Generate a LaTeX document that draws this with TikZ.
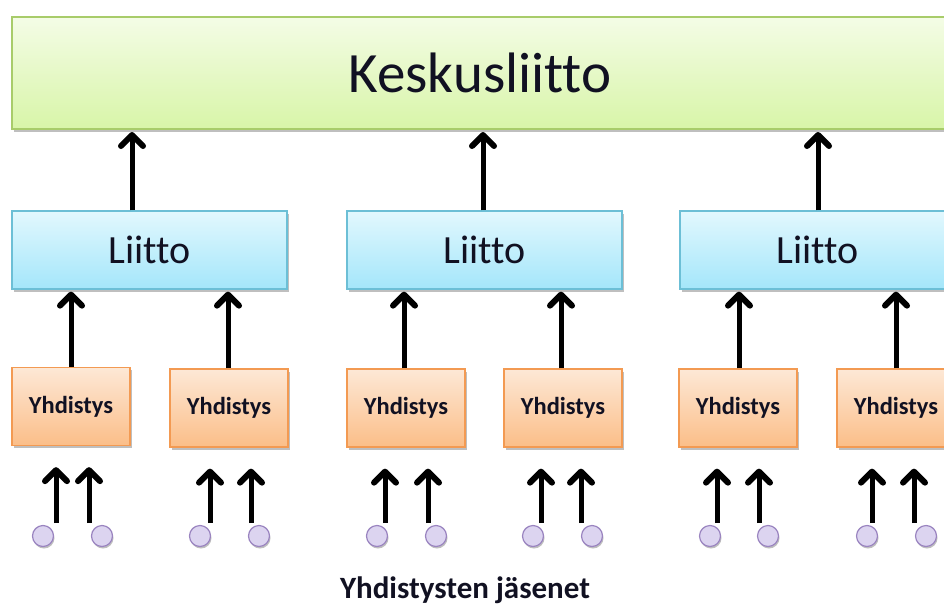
\documentclass[tikz,border=0pt]{standalone}
\usepackage{fontspec}
\setmainfont[Ligatures=NoCommon]{Carlito}
\usetikzlibrary{arrows.meta,shadows}
\definecolor{ktop}{HTML}{F4FCE6}
\definecolor{kbot}{HTML}{D8F5A8}
\definecolor{kbrd}{HTML}{A8CC6A}
\definecolor{ltop}{HTML}{E2F8FE}
\definecolor{lbot}{HTML}{A4E6FA}
\definecolor{lbrd}{HTML}{6CBFD6}
\definecolor{ytop}{HTML}{FDE8D6}
\definecolor{ybot}{HTML}{FBBE88}
\definecolor{ybrd}{HTML}{F39A52}
\definecolor{cfill}{HTML}{DCD4F0}
\definecolor{cbrd}{HTML}{9A84C0}
\definecolor{txt}{HTML}{111122}
\begin{document}
\begin{tikzpicture}[x=1pt,y=-1pt,
  box/.style={draw, line width=1.3pt, inner sep=0pt, text=txt,
    drop shadow={shadow xshift=1.5pt, shadow yshift=-2.5pt, opacity=0.25, fill=black}},
  kbox/.style={box, draw=kbrd, top color=ktop, bottom color=kbot,
    minimum width=936pt, minimum height=112pt, font=\fontsize{57}{62}\selectfont},
  lbox/.style={box, draw=lbrd, top color=ltop, bottom color=lbot,
    minimum width=275pt, minimum height=78pt, font=\fontsize{40}{46}\selectfont},
  ybox/.style={box, draw=ybrd, top color=ytop, bottom color=ybot,
    minimum width=118pt, minimum height=78pt, font=\bfseries\fontsize{24.5}{28}\selectfont},
  member/.style={circle, draw=cbrd, line width=1.2pt, fill=cfill, minimum size=21pt, inner sep=0pt,
    drop shadow={shadow xshift=1pt, shadow yshift=-2pt, opacity=0.25, fill=black}},
  uparrow/.style={draw=black, line width=5pt, -{Straight Barb[length=11pt,width=22pt,line width=6pt,round]}},
  ]
\useasboundingbox (0,0) rectangle (944,605);

\node[kbox] (K) at (480,73) {Keskusliitto};

\node[lbox] (L1) at (149.5,250) {Liitto};
\node[lbox] (L2) at (484.5,250) {Liitto};
\node[lbox] (L3) at (817.5,250) {Liitto};

\node[ybox] (Y1) at (71,406.5) {Yhdistys};
\node[ybox] (Y2) at (229,408) {Yhdistys};
\node[ybox] (Y3) at (406,408) {Yhdistys};
\node[ybox] (Y4) at (563,408) {Yhdistys};
\node[ybox] (Y5) at (738,408) {Yhdistys};
\node[ybox] (Y6) at (896,408) {Yhdistys};

% Liitto -> Keskusliitto
\coordinate (k1) at (132,129);
\coordinate (k2) at (483,129);
\coordinate (k3) at (818,129);
\draw[uparrow, shorten >=3pt] (L1.north -| k1) -- (k1);
\draw[uparrow, shorten >=3pt] (L2.north -| k2) -- (k2);
\draw[uparrow, shorten >=3pt] (L3.north -| k3) -- (k3);

% Yhdistys -> Liitto
\draw[uparrow, shorten >=2pt] (Y1.north -| 71,0) -- (L1.south -| 71,0);
\draw[uparrow, shorten >=2pt] (Y2.north -| 228,0) -- (L1.south -| 228,0);
\draw[uparrow, shorten >=2pt] (Y3.north -| 404,0) -- (L2.south -| 404,0);
\draw[uparrow, shorten >=2pt] (Y4.north -| 561,0) -- (L2.south -| 561,0);
\draw[uparrow, shorten >=2pt] (Y5.north -| 739,0) -- (L3.south -| 739,0);
\draw[uparrow, shorten >=2pt] (Y6.north -| 896,0) -- (L3.south -| 896,0);

% members
\foreach \n/\cx/\ax/\yy in {a/43/56/Y1, b/102/89/Y1, c/200/210/Y2, d/259/251/Y2,
                            e/377/385/Y3, f/436/428/Y3, g/533/541/Y4, h/592/581/Y4,
                            i/710/717/Y5, j/768/759/Y5, k/867/872/Y6, l/926/914/Y6}{
  \node[member] (m\n) at (\cx,536) {};
  \coordinate (s\n) at (\ax,523);
  \draw[uparrow, shorten >=21pt] (s\n) -- (s\n |- \yy.south);
}

\node[text=txt, font=\bfseries\fontsize{31}{35}\selectfont] (lbl) at (465,590) {Yhdistysten jäsenet};
\end{tikzpicture}
\end{document}
